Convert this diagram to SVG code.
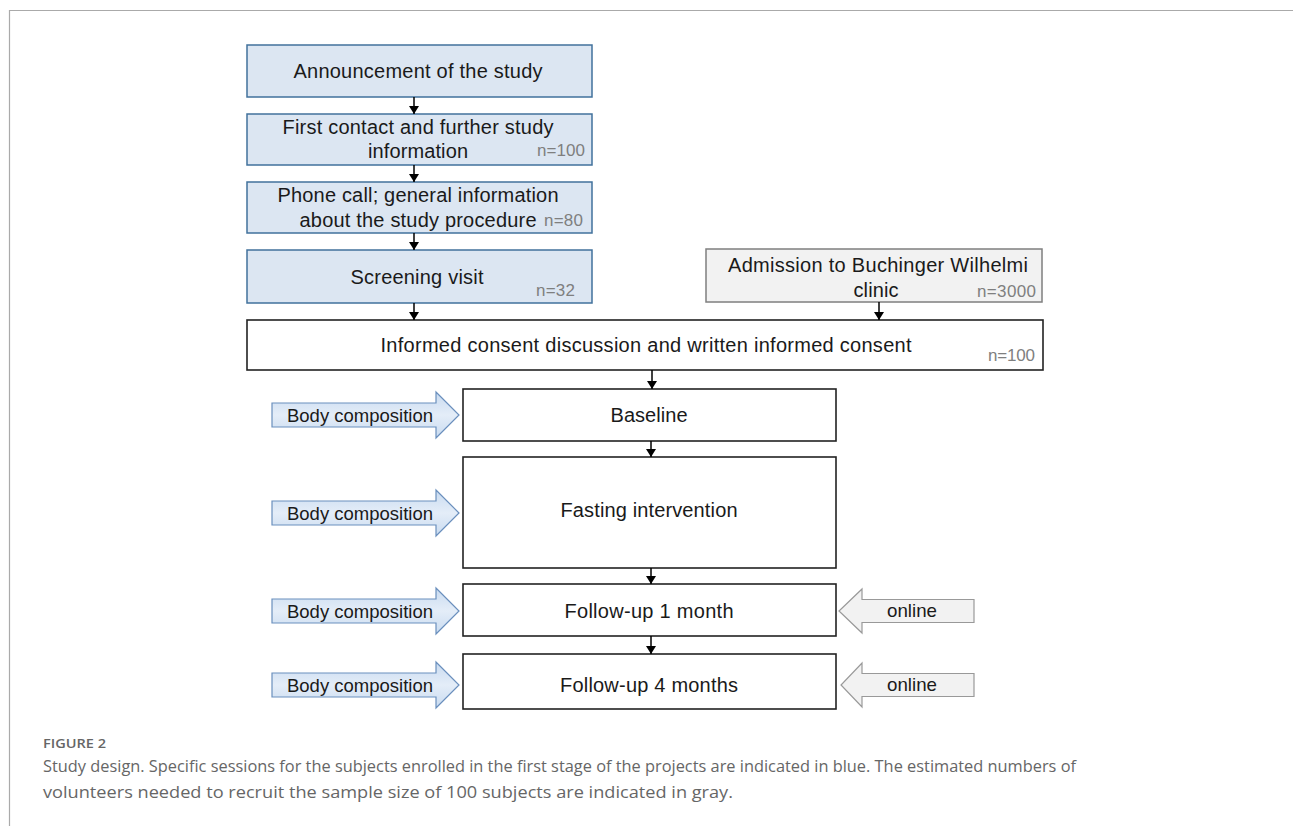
<svg xmlns="http://www.w3.org/2000/svg" width="1293" height="826" viewBox="0 0 1293 826">
<style>
.t{font-family:"Liberation Sans",Arial,sans-serif;font-size:20px;fill:#1a1a1a;text-anchor:middle}
.n{font-family:"Liberation Sans",Arial,sans-serif;font-size:17px;fill:#7f7f7f}
.s{font-family:"Liberation Sans",Arial,sans-serif;font-size:19px;fill:#1a1a1a;text-anchor:middle}
.blue{fill:#dce6f2;stroke:#41719c;stroke-width:1.5}
.gray{fill:#f2f2f2;stroke:#7f7f7f;stroke-width:1.5}
.white{fill:#fff;stroke:#222;stroke-width:1.6}
.barrow{fill:url(#bg);stroke:#6a8fbd;stroke-width:1.2}
.garrow{fill:#f2f2f2;stroke:#999;stroke-width:1.2}
.conn{stroke:#000;stroke-width:1.5;fill:none;marker-end:url(#ah)}
.cap{font-family:"Open Sans","Noto Sans",sans-serif;fill:#666}
</style>
<defs>
<marker id="ah" viewBox="0 0 8 10" refX="8" refY="5" markerWidth="8" markerHeight="10" markerUnits="userSpaceOnUse" orient="auto">
<path d="M0,0 L8,5 L0,10 Z" fill="#000"/>
</marker>
<linearGradient id="bg" x1="0" y1="0" x2="0" y2="1">
<stop offset="0" stop-color="#c9dbf0"/>
<stop offset="0.5" stop-color="#e4edf8"/>
<stop offset="1" stop-color="#c9dbf0"/>
</linearGradient>
</defs>
<rect width="1293" height="826" fill="#fff"/>
<path d="M9.5,826 V10.5 H1293" fill="none" stroke="#aaa" stroke-width="1.2"/>

<g id="n1"><rect class="blue" x="247" y="45" width="345" height="52"/>
<text class="t" x="418" y="78" textLength="249">Announcement of the study</text></g>
<g id="n2"><rect class="blue" x="247" y="114" width="345" height="51"/>
<text class="t" x="418" y="134" textLength="271">First contact and further study</text>
<text class="t" x="418" y="158" textLength="100">information</text>
<text class="n" x="537" y="156" textLength="48">n=100</text></g>
<g id="n3"><rect class="blue" x="247" y="182" width="345" height="51"/>
<text class="t" x="418" y="202" textLength="281">Phone call; general information</text>
<text class="t" x="418" y="227" textLength="237">about the study procedure</text>
<text class="n" x="544" y="226" textLength="39">n=80</text></g>
<g id="n4"><rect class="blue" x="247" y="250" width="345" height="53"/>
<text class="t" x="417" y="284" textLength="133">Screening visit</text>
<text class="n" x="536" y="296" textLength="39">n=32</text></g>
<g id="n5"><rect class="gray" x="706" y="249" width="336" height="53"/>
<text class="t" x="878" y="272" textLength="300">Admission to Buchinger Wilhelmi</text>
<text class="t" x="876" y="297" textLength="45">clinic</text>
<text class="n" x="977" y="297" textLength="59">n=3000</text></g>
<g id="n6"><rect class="white" x="247" y="320" width="796" height="50"/>
<text class="t" x="646" y="352" textLength="531">Informed consent discussion and written informed consent</text>
<text class="n" x="988" y="361" textLength="47">n=100</text></g>
<g id="n7"><rect class="white" x="463" y="389" width="373" height="52"/>
<text class="t" x="649" y="422" textLength="77">Baseline</text></g>
<g id="n8"><rect class="white" x="463" y="457" width="373" height="111"/>
<text class="t" x="649" y="517" textLength="177">Fasting intervention</text></g>
<g id="n9"><rect class="white" x="463" y="584" width="373" height="52"/>
<text class="t" x="649" y="618" textLength="169">Follow-up 1 month</text></g>
<g id="n10"><rect class="white" x="463" y="654" width="373" height="55"/>
<text class="t" x="649" y="692" textLength="178">Follow-up 4 months</text></g>

<g id="bc1"><path class="barrow" d="M272,403 H436 V392 L459,415 L436,438 V427 H272 Z"/>
<text class="s" x="360" y="422" textLength="146" lengthAdjust="spacingAndGlyphs">Body composition</text></g>
<g id="bc2"><path class="barrow" d="M272,501 H436 V490 L459,513 L436,536 V525 H272 Z"/>
<text class="s" x="360" y="520" textLength="146" lengthAdjust="spacingAndGlyphs">Body composition</text></g>
<g id="bc3"><path class="barrow" d="M272,599 H436 V588 L459,611 L436,634 V623 H272 Z"/>
<text class="s" x="360" y="618" textLength="146" lengthAdjust="spacingAndGlyphs">Body composition</text></g>
<g id="bc4"><path class="barrow" d="M272,673 H436 V662 L459,685 L436,708 V697 H272 Z"/>
<text class="s" x="360" y="692" textLength="146" lengthAdjust="spacingAndGlyphs">Body composition</text></g>
<g id="on1"><path class="garrow" d="M974,599.5 H862 V589 L839,611 L862,633 V622.5 H974 Z"/>
<text class="s" x="912" y="617" textLength="50" lengthAdjust="spacingAndGlyphs">online</text></g>
<g id="on2"><path class="garrow" d="M974,673.5 H862 V663 L841,685 L862,707 V696.5 H974 Z"/>
<text class="s" x="912" y="691" textLength="50" lengthAdjust="spacingAndGlyphs">online</text></g>

<g id="connectors">
<line class="conn" x1="414" y1="97" x2="414" y2="114"/>
<line class="conn" x1="414" y1="165" x2="414" y2="182"/>
<line class="conn" x1="414" y1="233" x2="414" y2="250"/>
<line class="conn" x1="414" y1="303" x2="414" y2="320"/>
<line class="conn" x1="879" y1="302" x2="879" y2="320"/>
<line class="conn" x1="652" y1="370" x2="652" y2="389"/>
<line class="conn" x1="651" y1="441" x2="651" y2="457"/>
<line class="conn" x1="651" y1="568" x2="651" y2="584"/>
<line class="conn" x1="651" y1="636" x2="651" y2="654"/>
</g>

<g id="caption">
<text class="cap" x="43" y="748" font-size="13" font-weight="600" fill="#555" textLength="63" lengthAdjust="spacingAndGlyphs">FIGURE 2</text>
<text class="cap" x="43" y="772" font-size="16.5" textLength="1033" lengthAdjust="spacingAndGlyphs">Study design. Specific sessions for the subjects enrolled in the first stage of the projects are indicated in blue. The estimated numbers of</text>
<text class="cap" x="43" y="798" font-size="16.5" textLength="690" lengthAdjust="spacingAndGlyphs">volunteers needed to recruit the sample size of 100 subjects are indicated in gray.</text>
</g>
</svg>
